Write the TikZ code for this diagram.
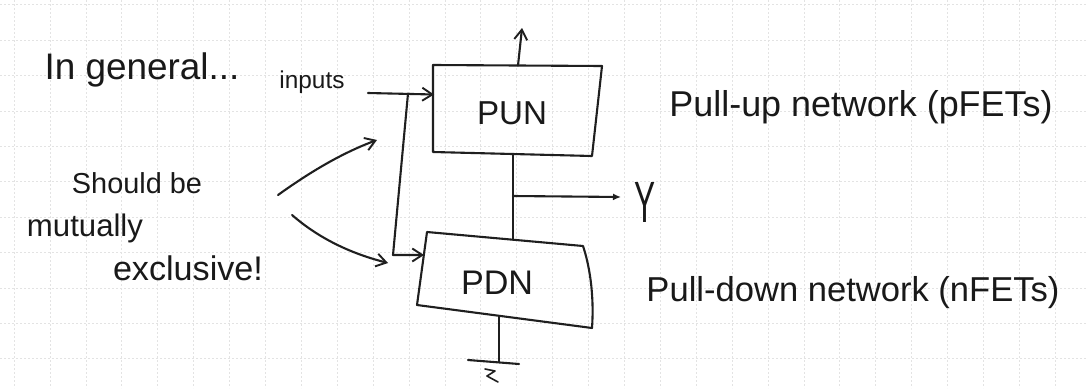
\documentclass[tikz,border=0pt]{standalone}
\usepackage{fontspec}
\setmainfont{Liberation Sans}
\usepackage{graphicx}
\usetikzlibrary{arrows.meta}
\newcommand{\fitw}[2]{\resizebox{#1}{!}{#2}}
\begin{document}
\begin{tikzpicture}[x=1pt,y=-1pt,
  ink/.style={draw=black!88, line width=2.1pt, line cap=round, line join=round},
  barb/.style={-{Straight Barb[length=10pt,width=13pt,line width=1.9pt]}},
  lbl/.style={inner sep=0pt, text=black!90},
  gridline/.style={draw=black!11, line width=0.6pt, dash pattern=on 2pt off 2pt}]
\useasboundingbox (0,0) rectangle (1086,388);
\fill[white] (0,0) rectangle (1086,388);
\foreach \k in {0,...,30} \draw[gridline] ({14+35.9*\k},0) -- ({14+35.9*\k},388);
\foreach \k in {0,...,10} \draw[gridline] (0,{4.6+35.4*\k}) -- (1086,{4.6+35.4*\k});

% PUN box
\coordinate (pun-nw) at (433,65);
\coordinate (pun-ne) at (602,66);
\coordinate (pun-se) at (592,156);
\coordinate (pun-sw) at (433,152);
\draw[ink] (pun-nw) -- (pun-ne) -- (pun-se) -- (pun-sw) -- cycle;
\node[lbl] (pun) at (512,113) {\fitw{70pt}{PUN}};

% PDN box
\coordinate (pdn-nw) at (427,232);
\coordinate (pdn-ne) at (583,246);
\coordinate (pdn-se) at (592,328);
\coordinate (pdn-sw) at (417,305);
\draw[ink] (pdn-nw) -- (pdn-ne) .. controls (591,270) and (594,300) .. (pdn-se) -- (pdn-sw) -- cycle;
\node[lbl] (pdn) at (497,283) {\fitw{72pt}{PDN}};

% supply arrow
\coordinate (puntop) at (518,65.5);
\coordinate (vdd) at (522,28);
\draw[ink, barb] (puntop) -- (vdd);

% output node
\coordinate (mid-top) at (513,155);
\coordinate (mid-bot) at (513,239);
\coordinate (ytap) at (513,196);
\coordinate (yend) at (621,197);
\draw[ink] (mid-top) -- (mid-bot);
\draw[ink, -{Latex[length=8pt,width=7pt]}] (ytap) -- (yend);
\node[lbl] (y) at (645,202) {\resizebox{21pt}{40pt}{Y}};

% inputs
\coordinate (in-start) at (368,93);
\coordinate (pun-in) at (434,94.5);
\coordinate (branch-top) at (408,93.5);
\coordinate (branch-bot) at (393,255);
\coordinate (pdn-in) at (424,255);
\draw[ink, barb] (in-start) -- (pun-in);
\draw[ink, barb] (branch-top) -- (branch-bot) -- (pdn-in);

% mutually exclusive arrows
\coordinate (me-a) at (278,195);
\coordinate (me-at) at (377,140);
\coordinate (me-b) at (292,215);
\coordinate (me-bt) at (388,263);
\draw[ink, barb] (me-a) .. controls (310,172) and (342,153) .. (me-at);
\draw[ink, barb] (me-b) .. controls (315,235) and (345,252) .. (me-bt);

% ground
\coordinate (gnd-top) at (499,316);
\coordinate (gnd) at (499,362);
\coordinate (gnd-l) at (468,360);
\coordinate (gnd-r) at (519,364);
\draw[ink] (gnd-top) -- (gnd);
\draw[ink] (gnd-l) -- (gnd-r);
\draw[ink, line width=1.6pt] (485,369) -- (495,371) -- (487,376) -- (498,382);

% texts
\node[lbl] (ingeneral) at (142,70) {\fitw{195pt}{In general...}};
\node[lbl] (inputs) at (312,82) {\fitw{65pt}{inputs}};
\node[lbl] (should) at (137,183) {\fitw{130pt}{Should be}};
\node[lbl] (mutually) at (85,228) {\fitw{116pt}{mutually}};
\node[lbl] (exclusive) at (188,268) {\fitw{150pt}{exclusive!}};
\node[lbl] (pullup) at (861,107) {\fitw{383pt}{Pull-up network (pFETs)}};
\node[lbl] (pulldown) at (853,293) {\fitw{413pt}{Pull-down network (nFETs)}};
\end{tikzpicture}
\end{document}
